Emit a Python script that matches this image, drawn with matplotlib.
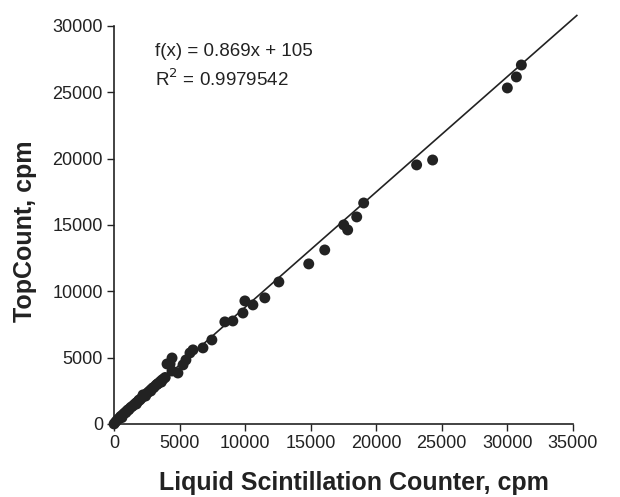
import matplotlib
matplotlib.use("Agg")
import matplotlib.pyplot as plt

# LSC counts (x) vs TopCount counts (y)
lsc_cpm = [
    0, 120, 250, 380, 500, 620, 760, 900, 1020, 1150,
    1280, 1400, 1550, 1700, 1830, 1980, 2100, 2210, 2350, 2500,
    2640, 2780, 2920, 3050, 3200, 3340, 3480, 3620, 3750, 3900,
    600, 1100, 1700, 2400, 3000, 3600, 900, 1900, 2800, 3300,
    4040, 4270, 4420, 4420, 4870, 5260, 5480, 5790, 6020, 6780,
    7460, 8450, 9060, 9830, 9980, 10590, 11500, 12570, 14850, 16070,
    17520, 17820, 18510, 19040, 23080, 24300, 30000, 30690, 31070,
]
topcount_cpm = [
    0, 150, 300, 420, 560, 650, 790, 900, 1030, 1120,
    1250, 1330, 1470, 1600, 1700, 1820, 1950, 2190, 2150, 2300,
    2420, 2550, 2680, 2770, 2920, 3030, 3150, 3280, 3380, 3500,
    480, 1050, 1500, 2100, 2730, 3150, 850, 1800, 2480, 3000,
    4520, 4520, 4970, 3990, 3840, 4450, 4820, 5350, 5580, 5730,
    6330, 7690, 7760, 8360, 9270, 8970, 9500, 10700, 12060, 13110,
    15000, 14620, 15600, 16650, 19520, 19890, 25320, 26150, 27050,
]

slope = 0.869
intercept = 105
fit_x = [0, 35300]
fit_y = [slope * v + intercept for v in fit_x]

plt.rcParams["font.family"] = ["Liberation Sans", "DejaVu Sans"]
ink = "#222222"

fig = plt.figure(figsize=(6.2, 4.97), dpi=100)
ax = fig.add_axes([0.184, 0.147, 0.740, 0.801])

ax.plot(fit_x, fit_y, color=ink, linewidth=1.2, clip_on=False, zorder=2)
ax.scatter(lsc_cpm, topcount_cpm, s=62, color=ink, edgecolors="none",
           clip_on=False, zorder=3)

ax.set_xlim(0, 35000)
ax.set_ylim(0, 30000)
ax.set_xticks(range(0, 35001, 5000))
ax.set_yticks(range(0, 30001, 5000))

for side in ("top", "right"):
    ax.spines[side].set_visible(False)
for side in ("left", "bottom"):
    ax.spines[side].set_color(ink)
    ax.spines[side].set_linewidth(1.2)

ax.tick_params(direction="out", length=5, width=1.0, color=ink,
               labelsize=13, labelcolor=ink, pad=3)

ax.set_xlabel("Liquid Scintillation Counter, cpm", fontsize=18,
              fontweight="bold", color=ink)
ax.set_ylabel("TopCount, cpm", fontsize=18, fontweight="bold", color=ink)
ax.xaxis.set_label_coords(0.523, -0.118)
ax.yaxis.set_label_coords(-0.168, 0.485)

ax.text(0.089, 0.935, "f(x) = 0.869x + 105", transform=ax.transAxes,
        fontsize=13.5, color=ink, va="center")
ax.text(0.089, 0.865, "R$^2$ = 0.9979542", transform=ax.transAxes,
        fontsize=13.5, color=ink, va="center")

fig.savefig("out.png", dpi=100)
